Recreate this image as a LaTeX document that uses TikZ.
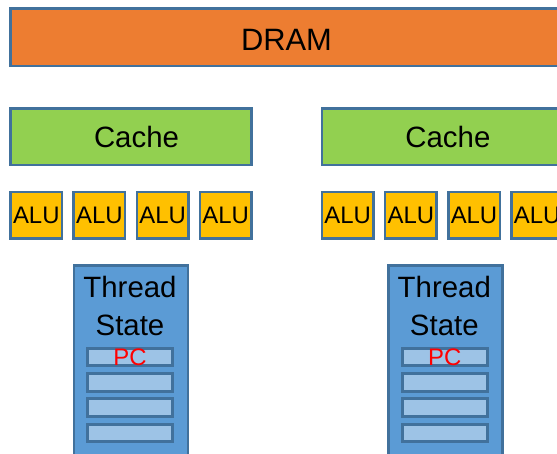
\documentclass[tikz,border=0pt]{standalone}
\usepackage{fontspec}
\setmainfont{Liberation Sans}
\definecolor{bordc}{HTML}{41719C}
\definecolor{dramc}{HTML}{ED7D31}
\definecolor{cachec}{HTML}{92D050}
\definecolor{aluc}{HTML}{FFC000}
\definecolor{tsc}{HTML}{5B9BD5}
\definecolor{regc}{HTML}{9DC3E6}
\begin{document}
\begin{tikzpicture}[x=1bp,y=-1bp,
  box/.style={draw=bordc, line width=2.5bp, inner sep=0pt, anchor=center},
  drambox/.style={box, fill=dramc, minimum width=551.5bp, minimum height=57.5bp,
    font=\fontsize{31}{37}\selectfont, text height=27bp, text depth=0bp},
  cachebox/.style={box, fill=cachec, minimum width=240.5bp, minimum height=56.5bp,
    font=\fontsize{29.5}{35}\selectfont},
  alubox/.style={box, fill=aluc, minimum width=51.5bp, minimum height=46.5bp,
    font=\fontsize{24}{28}\selectfont},
  tsbox/.style={box, fill=tsc, minimum width=114bp, minimum height=230bp, anchor=north},
  tstext/.style={inner sep=0pt, anchor=north, align=center, font=\fontsize{29.5}{37.3}\selectfont},
  regbox/.style={draw=bordc, line width=3bp, fill=regc, inner sep=0pt,
    minimum width=85bp, minimum height=17.5bp, text=red, font=\fontsize{24}{28}\selectfont}]
\useasboundingbox (0,0) rectangle (557,454);
\clip (0,0) rectangle (557,454);
% DRAM
\node[drambox] (dram) at (286.5,37.5) {DRAM};
% caches
\node[cachebox] (cache1) at (131,137) {\hspace*{11bp}Cache};
\node[cachebox] (cache2) at (442.4,137) {\hspace*{11bp}Cache};
% ALUs
\foreach \i/\x in {1/36.3,2/99.45,3/162.6,4/225.75}{
  \node[alubox] (alua\i) at (\x,215.5) {ALU};
  \node[alubox] (alub\i) at (\x+311.4,215.5) {ALU};
}
% thread states
\node[tsbox] (ts1) at (131,264) {};
\node[tsbox] (ts2) at (445.5,264) {};
\node[tstext] (tt1) at (130,276.5) {Thread\\State};
\node[tstext] (tt2) at (444.3,276.5) {Thread\\State};
% registers
\node[regbox] (ra1) at (130,357) {PC};
\node[regbox] (ra2) at (130,382.5) {};
\node[regbox] (ra3) at (130,407.7) {};
\node[regbox] (ra4) at (130,433) {};
\node[regbox] (rb1) at (444.7,357) {PC};
\node[regbox] (rb2) at (444.7,382.5) {};
\node[regbox] (rb3) at (444.7,407.7) {};
\node[regbox] (rb4) at (444.7,433) {};
\end{tikzpicture}
\end{document}
